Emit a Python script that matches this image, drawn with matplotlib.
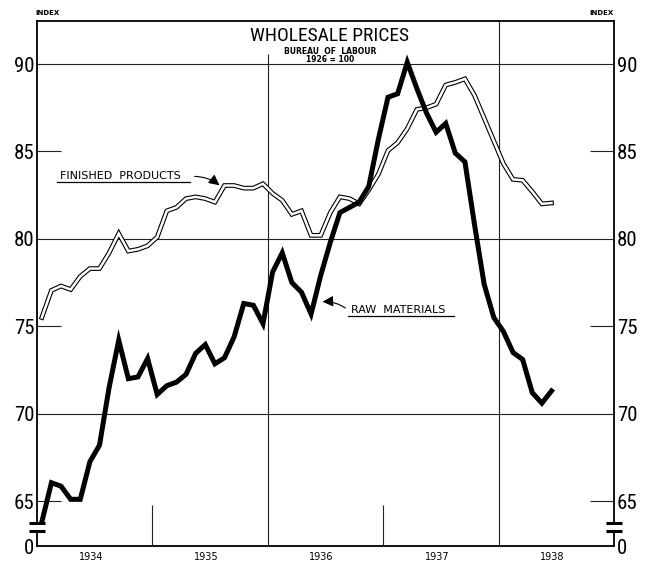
# Wholesale prices, Bureau of Labour, 1926 = 100 (monthly, Jan 1934 - Jun 1938)

import matplotlib
matplotlib.use("Agg")
import matplotlib.pyplot as plt
import matplotlib.transforms as mtransforms
from matplotlib import font_manager

years = ["1934", "1935", "1936", "1937", "1938"]

raw_materials = [
    63.8, 66.05, 65.85, 65.1, 65.1, 67.25, 68.2, 71.5, 74.2, 72.0, 72.1, 73.15,
    71.1, 71.6, 71.8, 72.25, 73.45, 73.95, 72.85, 73.2, 74.4, 76.3, 76.2, 75.15,
    78.1, 79.2, 77.5, 76.95, 75.7, 77.9, 79.8, 81.5, 81.8, 82.1, 83.0, 85.7,
    88.1, 88.3, 90.1, 88.6, 87.2, 86.1, 86.6, 84.9, 84.4, 80.8, 77.4, 75.5,
    74.7, 73.5, 73.1, 71.2, 70.6, 71.3,
]

finished_products = [
    75.5, 77.05, 77.3, 77.1, 77.85, 78.3, 78.3, 79.2, 80.3, 79.3, 79.4, 79.6,
    80.1, 81.6, 81.8, 82.3, 82.4, 82.3, 82.1, 83.05, 83.05, 82.9, 82.9, 83.15,
    82.6, 82.2, 81.4, 81.6, 80.2, 80.2, 81.5, 82.4, 82.3, 82.0, 82.8, 83.7,
    85.05, 85.5, 86.3, 87.4, 87.5, 87.7, 88.8, 88.95, 89.15, 88.2, 86.9, 85.6,
    84.3, 83.4, 83.35, 82.7, 82.0, 82.05,
]

y_ticks = [65, 70, 75, 80, 85, 90]

# pick a condensed face for the big numbers if there is one
names = {f.name for f in font_manager.fontManager.ttflist}
narrow = "DejaVu Sans"
for cand in ["Liberation Sans Narrow", "DejaVu Sans Condensed", "Roboto Condensed",
             "Open Sans Condensed", "Noto Sans Condensed"]:
    if cand in names:
        narrow = cand
        break
num_size = 15 if narrow != "DejaVu Sans" else 13
title_size = 14 if narrow != "DejaVu Sans" else 11.5

months = [i + 0.5 for i in range(len(raw_materials))]
ybot, ytop = 62.43, 92.46

fig = plt.figure(figsize=(6.51, 5.67), dpi=100)
ax = fig.add_axes([37 / 651, 21 / 567, 577 / 651, 525 / 567])
ax.set_xlim(0, 60)
ax.set_ylim(ybot, ytop)

grid = dict(color="#222222", lw=0.8, zorder=1)
# full gridlines
for v in [70, 80, 90]:
    ax.axhline(v, **grid)
ax.vlines(24, ybot, 90.6, **grid)
ax.axvline(48, **grid)
# short ticks
for v in [65, 75, 85]:
    ax.hlines(v, 0, 2.5, **grid)
    ax.hlines(v, 57.5, 60, **grid)
ax.vlines([12, 36], ybot, 64.8, **grid)

# finished products as a hollow double line, raw materials thick black
ax.plot(months, finished_products, color="black", lw=3.4, zorder=3,
        solid_joinstyle="miter")
ax.plot(months, finished_products, color="white", lw=1.8, zorder=4,
        solid_joinstyle="miter")
ax.plot(months, raw_materials, color="black", lw=3.6, zorder=5,
        solid_joinstyle="miter")

for s in ax.spines.values():
    s.set_linewidth(1.3)

ax.set_yticks([ybot] + y_ticks)
ax.set_yticklabels(["0"] + [str(v) for v in y_ticks], fontsize=num_size, family=narrow)
ax.tick_params(axis="y", length=0, pad=2, labelright=True)
ax.set_xticks([])
for k, yr in enumerate(years):
    ax.text(12 * k + 5.6, ybot - 0.35, yr, ha="center", va="top", fontsize=7)

# axis break marks
tr = mtransforms.blended_transform_factory(ax.transAxes, ax.transData)
for xa in [0, 1]:
    ax.fill_between([xa - 0.014, xa + 0.014], 63.3, 63.74, color="white",
                    transform=tr, clip_on=False, zorder=6)
    for yb in [63.29, 63.74]:
        ax.plot([xa - 0.014, xa + 0.014], [yb, yb], color="black", lw=2.2,
                transform=tr, clip_on=False, zorder=7, solid_capstyle="butt")

# titles
fig.text(330 / 651, 1 - 36 / 567, "WHOLESALE PRICES", ha="center", va="center",
         fontsize=title_size, family=narrow)
fig.text(330 / 651, 1 - 51 / 567, "BUREAU  OF  LABOUR", ha="center", va="center",
         fontsize=5.5, fontweight="bold")
fig.text(330 / 651, 1 - 59 / 567, "1926 = 100", ha="center", va="center",
         fontsize=5.5, fontweight="bold")
fig.text(48 / 651, 1 - 13 / 567, "INDEX", ha="center", va="center",
         fontsize=5, fontweight="bold")
fig.text(601 / 651, 1 - 13 / 567, "INDEX", ha="center", va="center",
         fontsize=5, fontweight="bold")

# labels with arrows
ax.text(2.4, 83.57, "FINISHED  PRODUCTS", fontsize=8, va="center", ha="left")
ax.plot([2.1, 15.9], [83.23, 83.23], color="black", lw=0.9)
ax.annotate("", xy=(19.2, 82.96), xytext=(16.1, 83.57),
            arrowprops=dict(arrowstyle="-|>", color="black", lw=0.8,
                            mutation_scale=16, connectionstyle="arc3,rad=-0.2"))
ax.text(32.7, 75.95, "RAW  MATERIALS", fontsize=8, va="center", ha="left")
ax.plot([32.3, 43.4], [75.59, 75.59], color="black", lw=0.9)
ax.annotate("", xy=(29.4, 76.39), xytext=(32.3, 75.95),
            arrowprops=dict(arrowstyle="-|>", color="black", lw=0.8,
                            mutation_scale=16, connectionstyle="arc3,rad=0.2"))

plt.savefig("out.png", dpi=100)
